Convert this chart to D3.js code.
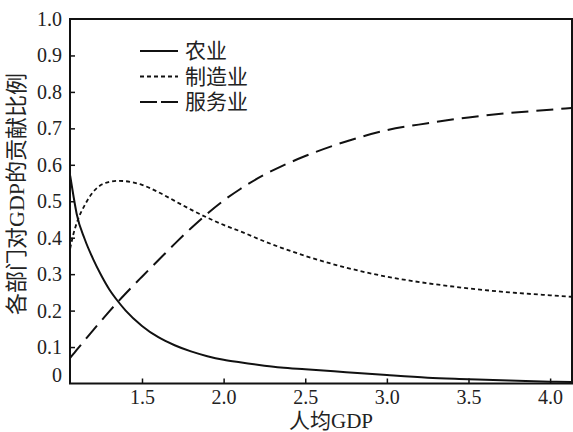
<!DOCTYPE html>
<html>
<head>
    <meta charset="UTF-8">
    <title>各部门对GDP的贡献比例</title>
    <script src="https://d3js.org/d3.v7.min.js"></script>
    <style>
        body { margin: 0; background: #fff; }
        svg { display: block; }
        .tick text { font-family: "Liberation Serif", "Noto Sans CJK SC", serif; font-size: 20px; fill: #222; }
        .cn { font-family: "Liberation Serif", "Noto Sans CJK SC", serif; fill: #222; }
    </style>
</head>
<body>
    <svg width="573" height="432"></svg>
    <script>
        // values
        var gdp = [1.06, 1.08, 1.1, 1.15, 1.2, 1.25, 1.3, 1.35, 1.4, 1.5, 1.6, 1.7, 1.8, 1.9, 2.0,
                   2.1, 2.25, 2.35, 2.5, 2.75, 3.0, 3.25, 3.5, 3.75, 4.0, 4.13];
        var agriculture = [0.57, 0.515, 0.465, 0.395, 0.342, 0.297, 0.258, 0.227, 0.2, 0.158, 0.127, 0.105, 0.088, 0.075, 0.065,
                           0.058, 0.049, 0.044, 0.039, 0.031, 0.023, 0.016, 0.012, 0.008, 0.005, 0.004];
        var manufacturing = [0.37, 0.41, 0.44, 0.49, 0.525, 0.545, 0.553, 0.556, 0.555, 0.545, 0.525, 0.501, 0.477, 0.455, 0.435,
                             0.418, 0.39, 0.373, 0.35, 0.318, 0.293, 0.275, 0.261, 0.25, 0.242, 0.238];
        var services = [0.07, 0.081, 0.092, 0.119, 0.146, 0.172, 0.198, 0.223, 0.247, 0.293, 0.338, 0.383, 0.426, 0.466, 0.502,
                        0.533, 0.573, 0.595, 0.624, 0.664, 0.695, 0.714, 0.73, 0.742, 0.751, 0.756];

        var xTicks = [1.5, 2.0, 2.5, 3.0, 3.5, 4.0];
        var yTicks = [0, 0.1, 0.2, 0.3, 0.4, 0.5, 0.6, 0.7, 0.8, 0.9, 1.0];

        var seriesNames = ["农业", "制造业", "服务业"];
        var seriesDash = ["none", "4,3", "17,8"];
        var seriesData = [agriculture, manufacturing, services];

        var svg = d3.select("svg");
        // plot box (note: "top" is reserved on window, so use plot* names)
        var plotL = 70, plotR = 572, plotT = 19, plotB = 383.5;

        var x = d3.scaleLinear().domain([1.059, 4.134]).range([plotL, plotR]);
        var y = d3.scaleLinear().domain([0, 1]).range([plotB, plotT]);

        svg.append("defs").append("clipPath").attr("id", "plot")
            .append("rect").attr("x", plotL).attr("y", plotT)
            .attr("width", plotR - plotL).attr("height", plotB - plotT);

        // axes, ticks pointing inside
        var xAxis = svg.append("g")
            .attr("transform", "translate(0," + plotB + ")")
            .call(d3.axisBottom(x).tickValues(xTicks).tickFormat(d3.format(".1f"))
                .tickSizeInner(-5).tickSizeOuter(0).tickPadding(6));
        xAxis.select(".domain").remove();
        xAxis.selectAll(".tick line").attr("stroke", "#111").attr("stroke-width", 1.5);

        var yAxis = svg.append("g")
            .attr("transform", "translate(" + plotL + ",0)")
            .call(d3.axisLeft(y).tickValues(yTicks)
                .tickFormat(function(d) { return d === 0 ? "0" : d3.format(".1f")(d); })
                .tickSizeInner(-5).tickSizeOuter(0).tickPadding(8));
        yAxis.select(".domain").remove();
        yAxis.selectAll(".tick line").attr("stroke", "#111").attr("stroke-width", 1.5)
            .filter(function(d) { return d === 0 || d === 1; }).remove();
        yAxis.selectAll(".tick text").filter(function(d) { return d === 0; }).attr("dy", "-0.1em");

        // frame
        svg.append("rect")
            .attr("x", plotL).attr("y", plotT)
            .attr("width", plotR - plotL).attr("height", plotB - plotT)
            .attr("fill", "none").attr("stroke", "#111").attr("stroke-width", 2);

        // lines
        var line = d3.line()
            .x(function(d, i) { return x(gdp[i]); })
            .y(function(d) { return y(d); })
            .curve(d3.curveMonotoneX);

        svg.append("g").attr("clip-path", "url(#plot)")
            .selectAll("path")
            .data(seriesData)
            .enter().append("path")
            .attr("d", line)
            .attr("fill", "none")
            .attr("stroke", "#111")
            .attr("stroke-width", function(d, i) { return i === 1 ? 1.8 : 2; })
            .attr("stroke-dasharray", function(d, i) { return seriesDash[i]; });

        // legend
        var legend = svg.append("g").attr("transform", "translate(140,51)");
        var rows = legend.selectAll("g")
            .data(seriesNames)
            .enter().append("g")
            .attr("transform", function(d, i) { return "translate(0," + (i * 25.5) + ")"; });
        rows.append("line")
            .attr("x1", 0).attr("x2", 38).attr("y1", 0).attr("y2", 0)
            .attr("stroke", "#111")
            .attr("stroke-width", function(d, i) { return i === 1 ? 1.8 : 2; })
            .attr("stroke-dasharray", function(d, i) { return i === 2 ? "17,4" : seriesDash[i]; });
        rows.append("text")
            .attr("class", "cn")
            .attr("x", 45).attr("y", 0).attr("dy", "0.35em")
            .style("font-size", "21px")
            .text(function(d) { return d; });

        // axis titles
        svg.append("text")
            .attr("class", "cn")
            .attr("x", 331).attr("y", 421)
            .attr("dy", "0.35em")
            .attr("text-anchor", "middle")
            .style("font-size", "21px")
            .text("人均GDP");

        svg.append("text")
            .attr("class", "cn")
            .attr("transform", "translate(16,194) rotate(-90)")
            .attr("dy", "0.35em")
            .attr("text-anchor", "middle")
            .style("font-size", "22px")
            .text("各部门对GDP的贡献比例");
    </script>
</body>
</html>
